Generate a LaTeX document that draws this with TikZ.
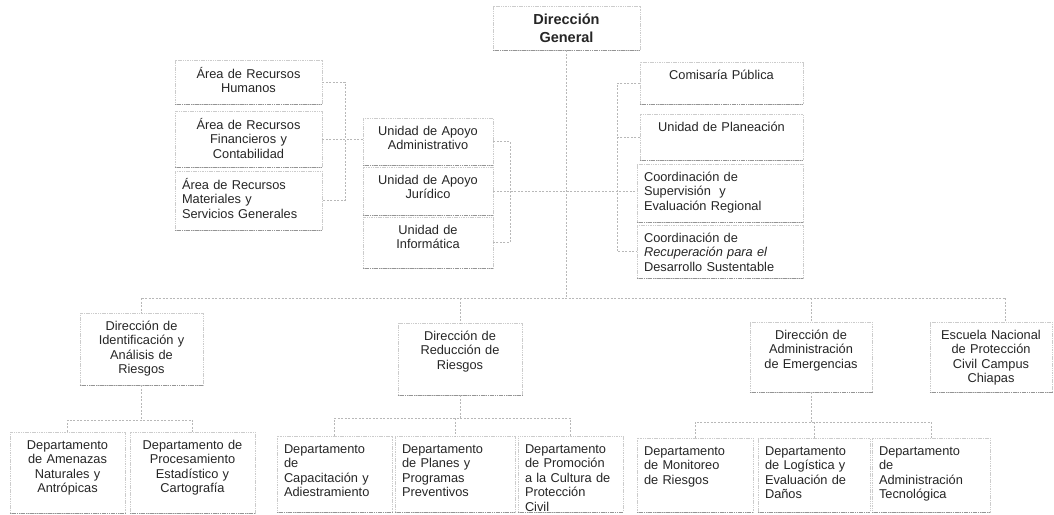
\documentclass[tikz,border=0pt]{standalone}
\usepackage{fontspec}
\setmainfont{Liberation Sans}
\begin{document}
\begin{tikzpicture}[x=1pt,y=-1pt,
  box/.style={draw=black!20,line width=0.5pt,dash pattern=on 1.5pt off 0.8pt,inner sep=0pt,fill=white},
  bottomedge/.style={draw=black!42,line width=1.3pt,dash pattern=on 1.2pt off 0.6pt},
  txt/.style={inner sep=0pt,text=black!85,font=\fontsize{12.8}{14.6}\selectfont,execute at begin node=\strut},
  conn/.style={draw=black!28,line width=0.7pt,dash pattern=on 2pt off 1.5pt}]
\useasboundingbox (0,0) rectangle (1054,514);
\newcommand{\orgbox}[7]{%
  \pgfmathsetmacro{\ocx}{(#2+#4)/2}%
  \pgfmathsetmacro{\ocy}{(#3+#5)/2}%
  \pgfmathsetmacro{\obw}{#4-#2}%
  \pgfmathsetmacro{\obh}{#5-#3}%
  \pgfmathsetmacro{\otw}{#4-#2-14}%
  \node[box,minimum width=\obw pt,minimum height=\obh pt] (#1) at (\ocx,\ocy) {};
  \draw[bottomedge] (#1.south west) -- (#1.south east);
  \node[txt,text width=\otw pt,align=#6,anchor=north] (#1-t) at ([yshift=-7pt]#1.north) {#7};
}
% boxes
\node[box,minimum width=147pt,minimum height=44pt] (DG) at (566.5,28) {};
\draw[bottomedge] (DG.south west) -- (DG.south east);
\node[inner sep=0pt,text=black!85,font=\bfseries\fontsize{14.5}{18}\selectfont,align=center] (DG-t) at (DG.center) {Dirección\\General};
\orgbox{Com}{640}{62}{803}{104}{center}{Comisaría Pública}
\orgbox{Plan}{640}{114}{803}{160}{center}{Unidad de Planeación}
\orgbox{Sup}{637}{164}{803}{222}{left}{Coordinación de\\Supervisión \ y\\Evaluación Regional}
\orgbox{Rec}{637}{225}{803}{278}{left}{Coordinación de\\\textit{Recuperación para el}\\Desarrollo Sustentable}
\orgbox{UAA}{363}{118}{493}{165}{center}{Unidad de Apoyo\\Administrativo}
\orgbox{UAJ}{363}{167}{493}{215}{center}{Unidad de Apoyo\\Jurídico}
\orgbox{UI}{363}{217}{493}{268}{center}{Unidad de\\Informática}
\orgbox{RH}{175}{60}{322}{104}{center}{Área de Recursos\\Humanos}
\orgbox{RF}{175}{111}{322}{167}{center}{Área de Recursos\\Financieros y\\Contabilidad}
\orgbox{RM}{175}{171}{322}{230}{left}{Área de Recursos\\Materiales y\\Servicios Generales}
\orgbox{DIA}{80}{313}{203}{385}{center}{Dirección de\\Identificación y\\Análisis de\\Riesgos}
\orgbox{DRR}{398}{323}{522}{395}{center}{Dirección de\\Reducción de\\Riesgos}
\orgbox{DAE}{750}{322}{872}{392}{center}{Dirección de\\Administración\\de Emergencias}
\orgbox{ENPC}{930}{322}{1052}{392}{center}{Escuela Nacional\\de Protección\\Civil Campus\\Chiapas}
\orgbox{DA}{10}{432}{125}{513}{center}{Departamento\\de Amenazas\\Naturales y\\Antrópicas}
\orgbox{DB}{130}{432}{255}{513}{center}{Departamento de\\Procesamiento\\Estadístico y\\Cartografía}
\orgbox{DC}{277}{436}{392}{512}{left}{Departamento\\de\\Capacitación y\\Adiestramiento}
\orgbox{DD}{395}{436}{515}{512}{left}{Departamento\\de Planes y\\Programas\\Preventivos}
\orgbox{DE}{518}{436}{623}{512}{left}{Departamento\\de Promoción\\a la Cultura de\\Protección\\Civil}
\orgbox{DF}{637}{438}{753}{512}{left}{Departamento\\de Monitoreo\\de Riesgos}
\orgbox{DG2}{758}{438}{870}{512}{left}{Departamento\\de Logística y\\Evaluación de\\Daños}
\orgbox{DH}{872}{438}{990}{512}{left}{Departamento\\de\\Administración\\Tecnológica}
% bus coordinates
\coordinate (lbus) at (345,0);
\coordinate (ubus) at (510,0);
\coordinate (rbus) at (617,0);
\coordinate (mbus) at (0,298);
\coordinate (b1) at (0,420);
\coordinate (b2) at (0,418);
\coordinate (b3) at (0,422);
\coordinate (escx) at (1005,0);
% top-left group
\draw[conn] (RH.east) -- (RH.east -| lbus) -- (RM.east -| lbus) -- (RM.east);
\draw[conn] (RF.east) -- (RF.east -| UAA.west);
% unidad group
\draw[conn] (UAA.east) -- (UAA.east -| ubus) -- (UI.east -| ubus) -- (UI.east);
\draw[conn] (UAJ.east) -- (UAJ.east -| Sup.west);
% right group
\draw[conn] (Com.west) -- (Com.west -| rbus) -- (Rec.west -| rbus) -- (Rec.west);
\draw[conn] (Plan.west) -- (Plan.west -| rbus);
% main trunk
\draw[conn] (DG.south) -- (DG.south |- mbus);
\draw[conn] (DIA.north |- mbus) -- (escx |- mbus);
\draw[conn] (DIA.north |- mbus) -- (DIA.north);
\draw[conn] (DRR.north |- mbus) -- (DRR.north);
\draw[conn] (DAE.north |- mbus) -- (DAE.north);
\draw[conn] (escx |- mbus) -- (escx |- ENPC.north);
% sub trees
\draw[conn] (DIA.south) -- (DIA.south |- b1);
\draw[conn] (DA.north) -- (DA.north |- b1) -- (DB.north |- b1) -- (DB.north);
\draw[conn] (DRR.south) -- (DRR.south |- b2);
\draw[conn] (DC.north) -- (DC.north |- b2) -- (DE.north |- b2) -- (DE.north);
\draw[conn] (DD.north |- b2) -- (DD.north);
\draw[conn] (DAE.south) -- (DAE.south |- b3);
\draw[conn] (DF.north) -- (DF.north |- b3) -- (DH.north |- b3) -- (DH.north);
\draw[conn] (DG2.north |- b3) -- (DG2.north);
\end{tikzpicture}
\end{document}
